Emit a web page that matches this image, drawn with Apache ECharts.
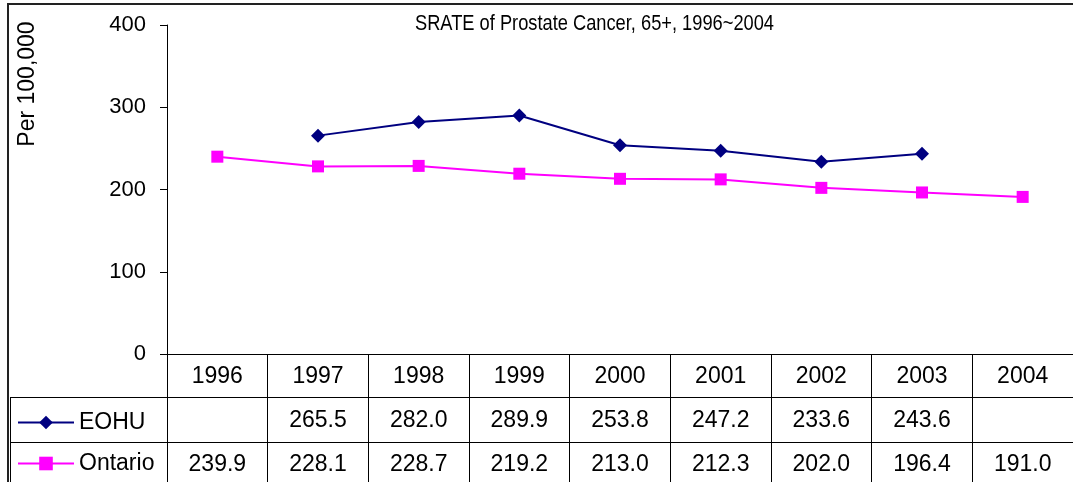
<!DOCTYPE html>
<html>
<head>
<meta charset="utf-8">
<script src="https://cdn.jsdelivr.net/npm/echarts@6/dist/echarts.min.js"></script>
<style>
html, body { margin: 0; padding: 0; background: #fff; }
#map1 { width: 1073px; height: 482px; }
</style>
</head>
<body>
<div id="map1"></div>
<script>
var years = ['1996', '1997', '1998', '1999', '2000', '2001', '2002', '2003', '2004'];
var eohu = [null, 265.5, 282.0, 289.9, 253.8, 247.2, 233.6, 243.6, null];
var ontario = [239.9, 228.1, 228.7, 219.2, 213.0, 212.3, 202.0, 196.4, 191.0];
var yMin = 0, yMax = 400, yStep = 100;

var font = 'Liberation Sans, Arial, sans-serif';

function cell(arr) {
    return function (v, i) {
        return arr[i] == null ? '' : arr[i].toFixed(1);
    };
}

function legendRow(name, top) {
    return {
        left: 17,
        top: top,
        padding: 0,
        itemWidth: 56,
        itemHeight: 17,
        itemGap: 0,
        textStyle: { fontFamily: font, fontSize: 23, color: '#000', lineHeight: 22 },
        data: [name]
    };
}

var charts = echarts.init(document.getElementById('map1'));
const option = {
    animation: false,
    backgroundColor: '#fff',
    legend: [legendRow('EOHU', 411), legendRow('Ontario', 452)],
    grid: {
        left: 167,
        right: -12,
        top: 25,
        bottom: 128,
        containLabel: false
    },
    xAxis: [{
        type: 'category',
        data: years,
        axisLine: { lineStyle: { color: '#000', width: 1 } },
        axisTick: { show: true, interval: 0, length: 135, lineStyle: { color: '#000' } },
        axisLabel: { interval: 0, margin: 11, fontFamily: font, fontSize: 23, color: '#000' }
    }, {
        type: 'category',
        data: years,
        position: 'bottom',
        offset: 44,
        axisLine: { show: false },
        axisTick: { show: false },
        axisLabel: { interval: 0, margin: 11, fontFamily: font, fontSize: 23, color: '#000', formatter: cell(eohu) }
    }, {
        type: 'category',
        data: years,
        position: 'bottom',
        offset: 88,
        axisLine: { show: false },
        axisTick: { show: false },
        axisLabel: { interval: 0, margin: 11, fontFamily: font, fontSize: 23, color: '#000', formatter: cell(ontario) }
    }],
    yAxis: {
        type: 'value',
        min: yMin,
        max: yMax,
        interval: yStep,
        splitLine: { show: false },
        axisLine: { show: true, lineStyle: { color: '#000' } },
        axisTick: { show: true, length: 7, lineStyle: { color: '#000' } },
        axisLabel: { margin: 21, fontFamily: font, fontSize: 22, color: '#000' }
    },
    graphic: [
        { type: 'rect', shape: { x: 8, y: 4, width: 1100, height: 500 }, style: { fill: null, stroke: '#222', lineWidth: 2 }, silent: true },
        { type: 'line', shape: { x1: 10.5, y1: 397, x2: 10.5, y2: 490 }, style: { stroke: '#000', lineWidth: 1 } },
        { type: 'line', shape: { x1: 10, y1: 397.5, x2: 1080, y2: 397.5 }, style: { stroke: '#000', lineWidth: 1 } },
        { type: 'line', shape: { x1: 10, y1: 442.5, x2: 1080, y2: 442.5 }, style: { stroke: '#000', lineWidth: 1 } },
        {
            // chart title, condensed like the original
            type: 'text', x: 415, y: 24, scaleX: 0.83, scaleY: 1,
            style: { text: 'SRATE of Prostate Cancer, 65+, 1996~2004', x: 0, y: 0, align: 'left', verticalAlign: 'middle', fontSize: 22, fontFamily: font, fill: '#000' }
        },
        {
            type: 'text', x: 28, y: 84, rotation: Math.PI / 2,
            style: { text: 'Per 100,000', x: 0, y: 0, align: 'center', verticalAlign: 'middle', fontSize: 23, fontFamily: font, fill: '#000' }
        }
    ],
    series: []
};

var names = ['EOHU', 'Ontario'];
var colors = ['#000080', '#FF00FF'];
var symbols = ['diamond', 'rect'];
var sizes = [14, 12];
option.series = [eohu, ontario].map(function (item, k) {
    return {
        name: names[k],
        type: 'line',
        data: item,
        symbol: symbols[k],
        symbolSize: sizes[k],
        showAllSymbol: true,
        connectNulls: false,
        color: colors[k],
        itemStyle: { color: colors[k] },
        lineStyle: { color: colors[k], width: 2 }
    };
});
charts.setOption(option);
</script>
</body>
</html>
